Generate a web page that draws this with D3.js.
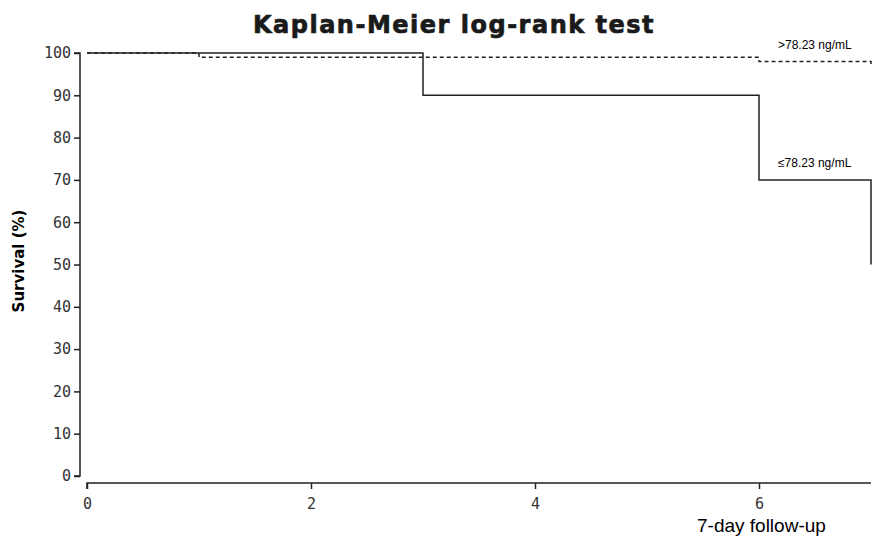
<!DOCTYPE html>
<html><head><meta charset="utf-8">
<script src="https://cdn.jsdelivr.net/npm/d3@7/dist/d3.min.js"></script>
<style>body{margin:0;background:#fff}</style>
</head><body>
<svg id="c" width="874" height="539"></svg>
<script>
const title = "Kaplan-Meier log-rank test";
const xTicks = [0, 2, 4, 6];
const yTicks = [0,10,20,30,40,50,60,70,80,90,100];
// step points: [time, survival]
const lowTimes = [0, 3, 6, 7, 7];
const lowSurv  = [100, 90, 70, 50, 50];
const highTimes = [0, 1, 6, 7, 7];
const highSurv  = [100, 99, 98, 97, 97];
const lowLabel = "≤78.23 ng/mL";
const highLabel = ">78.23 ng/mL";
const xLabel = "7-day follow-up";
const yLabel = "Survival (%)";

const svg = d3.select("#c");
const x = d3.scaleLinear().domain([0,7]).range([87,871]);
const y = d3.scaleLinear().domain([0,100]).range([476,53]);

svg.append("text").attr("x",454).attr("y",33).attr("text-anchor","middle")
  .attr("font-family","DejaVu Sans").attr("font-weight","bold").attr("font-size",24)
  .attr("letter-spacing",1.5).attr("fill","#1a1a1a").attr("stroke","#1a1a1a").attr("stroke-width",0.7)
  .text(title);

const yAx = svg.append("g").attr("transform","translate(80,0)")
  .call(d3.axisLeft(y).tickValues(yTicks).tickFormat(d3.format("d")).tickSize(6).tickPadding(3));
const xAx = svg.append("g").attr("transform","translate(0,483)")
  .call(d3.axisBottom(x).tickValues(xTicks).tickFormat(d3.format("d")).tickSize(6).tickPadding(9));
[yAx,xAx].forEach(g=>{
  g.selectAll("path").attr("stroke","#222").attr("stroke-width",1.5);
  g.selectAll("line").attr("stroke","#222").attr("stroke-width",1.5);
  g.selectAll("text").attr("font-family","DejaVu Sans Mono").attr("font-size",15).attr("fill","#333");
});
yAx.select("path").attr("d",`M-6,${y(0)}H0V${y(100)}H-6`);
xAx.select("path").attr("d",`M${x(0)},6V0H${x(7)}`);

const line = d3.line().x(d=>x(d[0])).y(d=>y(d[1])).curve(d3.curveStepAfter);
const lowData = lowTimes.map((t,i)=>[t,lowSurv[i]]);
const highData = highTimes.map((t,i)=>[t,highSurv[i]]);
svg.append("path").datum(highData).attr("d",line).attr("fill","none")
  .attr("stroke","#222").attr("stroke-width",1.5).attr("stroke-dasharray","4,3");
svg.append("path").datum(lowData).attr("d",line).attr("fill","none")
  .attr("stroke","#222").attr("stroke-width",1.5);

svg.append("text").attr("x",778).attr("y",49).attr("font-family","Liberation Sans")
  .attr("font-size",12).text(highLabel);
svg.append("text").attr("x",778).attr("y",167).attr("font-family","Liberation Sans")
  .attr("font-size",12).text(lowLabel);
svg.append("text").attr("x",697).attr("y",532).attr("font-family","Liberation Sans")
  .attr("font-size",19).text(xLabel);
svg.append("text").attr("transform","translate(24,261) rotate(-90)").attr("text-anchor","middle")
  .attr("font-family","DejaVu Sans").attr("font-weight","bold").attr("font-size",15).text(yLabel);
</script>
</body></html>
